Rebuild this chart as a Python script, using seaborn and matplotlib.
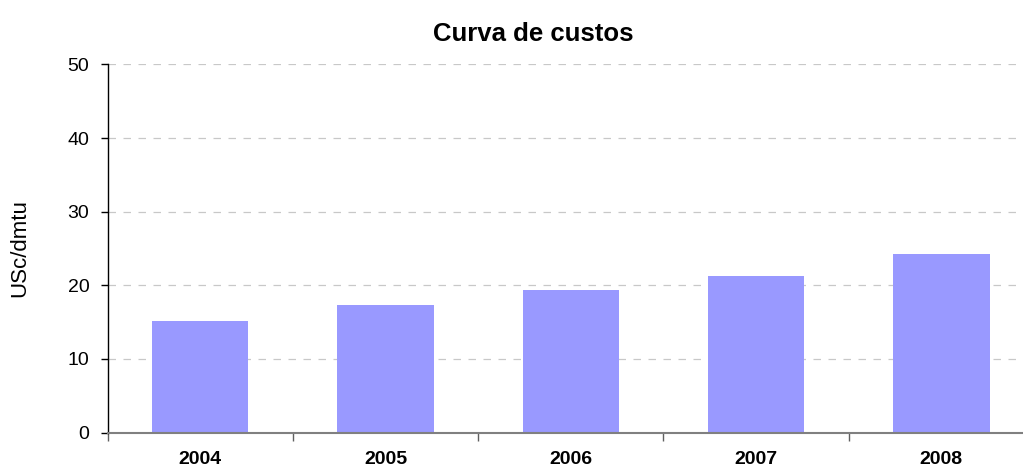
import matplotlib
matplotlib.use('Agg')
import matplotlib.pyplot as plt
import seaborn as sns
import pandas as pd
import numpy as np

anos = ['2004', '2005', '2006', '2007', '2008']
custos = [15.15, 17.3, 19.4, 21.3, 24.25]

df = pd.DataFrame({'ano': anos, 'custo': custos})

sns.set_style('white')
plt.rcParams['font.family'] = ['Liberation Sans', 'DejaVu Sans']
plt.rcParams['text.color'] = 'black'
plt.rcParams['xtick.color'] = 'black'
plt.rcParams['ytick.color'] = 'black'
plt.rcParams['axes.labelcolor'] = 'black'

fig = plt.figure(figsize=(10.23, 4.73), dpi=100)
# axes run slightly past the right edge, as in the original
ax = fig.add_axes([107.5 / 1023, 40.5 / 473, 926.5 / 1023, 368 / 473])

sns.barplot(data=df, x='ano', y='custo', order=anos, color='#9999FF',
            width=0.52, saturation=1, linewidth=0, ax=ax, zorder=2)

ax.set_xlim(-0.5, 4.5)
ax.set_ylim(0, 50)
ax.set_yticks([0, 10, 20, 30, 40, 50])
ax.yaxis.grid(True, linestyle=(0, (6, 6)), color='#c8c8c8', linewidth=0.9)
ax.set_axisbelow(True)

for s in ['top', 'right']:
    ax.spines[s].set_visible(False)
ax.spines['left'].set_color('black')
ax.spines['left'].set_linewidth(1.0)
ax.spines['bottom'].set_color('#808080')
ax.spines['bottom'].set_linewidth(1.5)
ax.spines['bottom'].set_zorder(3)

ax.tick_params(axis='y', which='major', left=True, length=5, width=1,
               color='black', labelsize=14, pad=8)
ax.tick_params(axis='x', which='major', bottom=False, labelsize=14, pad=10)
ax.set_xticks(np.arange(-0.5, 5.0, 1.0), minor=True)
ax.tick_params(axis='x', which='minor', bottom=True, length=6, width=1,
               color='#606060')
for lab in ax.get_xticklabels():
    lab.set_fontweight('bold')

ax.set_xlabel('')
ax.set_ylabel('USc/dmtu', fontsize=16, labelpad=27)
ax.set_title('Curva de custos', fontsize=18.5, fontweight='bold', pad=17,
             x=(533 - 107.5) / 926.5)

fig.savefig('out.png', dpi=100)
